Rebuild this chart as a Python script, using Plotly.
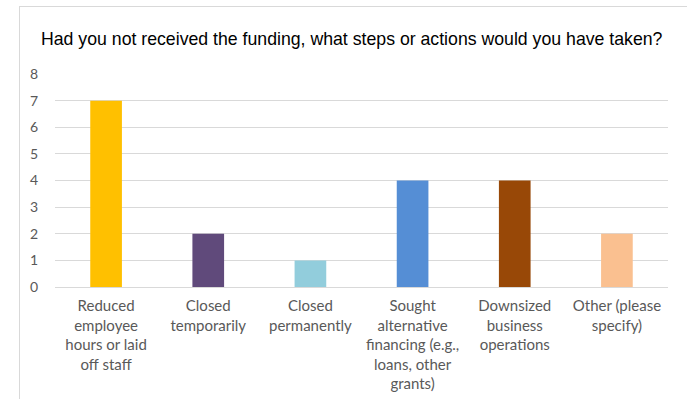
import plotly.graph_objects as go

categories = [
    "Reduced<br>employee<br>hours or laid<br>off staff",
    "Closed<br>temporarily",
    "Closed<br>permanently",
    "Sought<br>alternative<br>financing (e.g.,<br>loans, other<br>grants)",
    "Downsized<br>business<br>operations",
    "Other (please<br>specify)",
]
values = [7, 2, 1, 4, 4, 2]
colors = ["#FFC000", "#604A7B", "#92CDDC", "#558ED5", "#984807", "#FAC090"]
y_ticks = [0, 1, 2, 3, 4, 5, 6, 7, 8]
title_text = "Had you not received the funding, what steps or actions would you have taken?"

W, H = 687, 399
ml, mr, mt, mb = 55, 19, 74, 112
pw = W - ml - mr
ph = H - mt - mb

def px_x(p):
    return (p - ml) / pw

def px_y(p):
    return (H - mb - p) / ph

fig = go.Figure()
fig.add_trace(go.Bar(
    x=categories, y=values, marker=dict(color=colors, line=dict(width=0)),
    width=0.31, hoverinfo="skip",
))

fig.update_layout(
    width=W, height=H,
    margin=dict(l=ml, r=mr, t=mt, b=mb),
    paper_bgcolor="white", plot_bgcolor="white",
    showlegend=False,
    font=dict(family="Lato, sans-serif", color="#595959", size=15),
    xaxis=dict(
        showgrid=False, showline=True, linecolor="#D9D9D9", linewidth=1,
        ticks="", tickfont=dict(family="Lato, sans-serif", size=15, color="#595959"),
        range=[-0.5, 5.5], ticklabelstandoff=5, automargin=False,
    ),
    yaxis=dict(
        range=[0, 8], tickvals=y_ticks, showgrid=True, gridcolor="#D9D9D9",
        gridwidth=1, zeroline=False, showline=False, ticks="",
        tickfont=dict(family="Lato, sans-serif", size=14, color="#595959"),
        ticklabelstandoff=16, automargin=False,
    ),
    shapes=[
        dict(type="line", xref="paper", yref="paper",
             x0=px_x(19), x1=px_x(700), y0=px_y(6.5), y1=px_y(6.5),
             line=dict(color="#D9D9D9", width=1)),
        dict(type="line", xref="paper", yref="paper",
             x0=px_x(19.5), x1=px_x(19.5), y0=px_y(6), y1=px_y(410),
             line=dict(color="#D9D9D9", width=1)),
    ],
    annotations=[
        dict(text=title_text, xref="paper", yref="paper",
             x=px_x(352), y=px_y(39), xanchor="center", yanchor="middle",
             showarrow=False,
             font=dict(family="Liberation Sans, Arial, sans-serif", size=17.7, color="#000000")),
    ],
)

fig.write_html("out.html")
